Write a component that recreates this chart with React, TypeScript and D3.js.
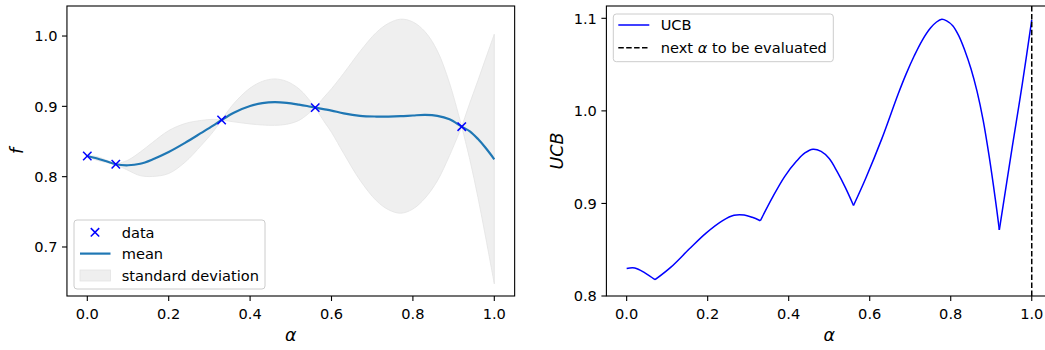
import React from "react";
import * as d3 from "d3";

// ---- data ----
const DATA_X = [0, 0.07, 0.33, 0.56, 0.92];
const DATA_Y = [0.8294, 0.8176, 0.8806, 0.8982, 0.8711];

const ALPHA = [0, 0.02, 0.045, 0.07, 0.1, 0.13, 0.16, 0.2, 0.24, 0.28, 0.31, 0.33, 0.36, 0.4, 0.43, 0.46, 0.49, 0.52, 0.54, 0.56, 0.58, 0.6, 0.63, 0.67, 0.71, 0.74, 0.77, 0.8, 0.83, 0.86, 0.89, 0.92, 0.94, 0.96, 0.98, 1.0];
const MEAN = [0.8294, 0.8265, 0.8222, 0.8176, 0.8162, 0.8183, 0.8244, 0.835, 0.848, 0.8622, 0.873, 0.8806, 0.891, 0.9005, 0.9045, 0.906, 0.905, 0.9025, 0.9005, 0.8982, 0.896, 0.894, 0.89, 0.8865, 0.8855, 0.8855, 0.886, 0.887, 0.8878, 0.8865, 0.8815, 0.8711, 0.8645, 0.8535, 0.84, 0.8247];
const UPPER = [0.8294, 0.829, 0.824, 0.8176, 0.8235, 0.835, 0.8485, 0.8655, 0.8755, 0.88, 0.8815, 0.8806, 0.904, 0.926, 0.9355, 0.939, 0.9355, 0.925, 0.913, 0.8982, 0.912, 0.925, 0.947, 0.978, 1.005, 1.018, 1.024, 1.02, 1.006, 0.979, 0.933, 0.8711, 0.905, 0.937, 0.97, 1.0025];
const LOWER = [0.8294, 0.824, 0.8204, 0.8176, 0.809, 0.8015, 0.8003, 0.8045, 0.8205, 0.8445, 0.8645, 0.8806, 0.878, 0.875, 0.8735, 0.873, 0.8745, 0.88, 0.888, 0.8982, 0.88, 0.863, 0.833, 0.795, 0.766, 0.753, 0.748, 0.754, 0.7696, 0.794, 0.83, 0.8711, 0.824, 0.77, 0.71, 0.6475];

const UCB_ALPHA = [0, 0.02, 0.045, 0.07, 0.11, 0.155, 0.196, 0.237, 0.265, 0.29, 0.31, 0.33, 0.36, 0.39, 0.42, 0.44, 0.46, 0.48, 0.5, 0.52, 0.54, 0.56, 0.59, 0.63, 0.67, 0.69, 0.71, 0.73, 0.75, 0.765, 0.778, 0.79, 0.805, 0.82, 0.835, 0.85, 0.865, 0.88, 0.895, 0.91, 0.92, 0.952, 0.977, 1.0];
const UCB = [0.8298, 0.8303, 0.825, 0.8176, 0.8315, 0.851, 0.868, 0.8815, 0.8872, 0.8875, 0.885, 0.8813, 0.9065, 0.929, 0.946, 0.9545, 0.9586, 0.9562, 0.9485, 0.934, 0.917, 0.8978, 0.927, 0.97, 1.018, 1.04, 1.0595, 1.0765, 1.0895, 1.096, 1.0989, 1.0972, 1.092, 1.081, 1.065, 1.0455, 1.021, 0.99, 0.9505, 0.905, 0.8715, 0.9614, 1.0299, 1.0982];

const NEXT_ALPHA = 1.0;
const X_TICKS = [0, 0.2, 0.4, 0.6, 0.8, 1.0];
const LEFT_Y_TICKS = [0.7, 0.8, 0.9, 1.0];
const RIGHT_Y_TICKS = [0.8, 0.9, 1.0, 1.1];

// ---- layout ----
const FONT = "DejaVu Sans";
const TICK_FS = 14.6;
const LABEL_FS = 17.5;
const TOP = 6;
const BOTTOM = 296;

const xL = d3.scaleLinear().domain([-0.05, 1.05]).range([66.95, 514.65]);
const yL = d3.scaleLinear().domain([0.6303, 1.0427]).range([BOTTOM, TOP]);
const xR = d3.scaleLinear().domain([-0.05, 1.05]).range([606.4, 1052]);
const yR = d3.scaleLinear().domain([0.8, 1.1133]).range([BOTTOM, TOP]);

const fmt = d3.format(".1f");

function splitAt<T>(items: T[], getX: (d: T) => number, breaks: number[]): T[][] {
  const segs: T[][] = [];
  let cur: T[] = [];
  items.forEach((d) => {
    cur.push(d);
    const x = getX(d);
    if (breaks.some((b) => Math.abs(b - x) < 1e-9) && cur.length > 1) {
      segs.push(cur);
      cur = [d];
    }
  });
  if (cur.length > 1) segs.push(cur);
  return segs;
}

type BandPt = { a: number; m: number; hi: number; lo: number };
const band: BandPt[] = ALPHA.map((a, i) => ({ a, m: MEAN[i], hi: UPPER[i], lo: LOWER[i] }));
const bandSegs = splitAt(band, (d) => d.a, DATA_X);
const ucbPts = UCB_ALPHA.map((a, i) => ({ a, v: UCB[i] }));
const ucbSegs = splitAt(ucbPts, (d) => d.a, DATA_X);

const areaGen = d3
  .area<BandPt>()
  .x((d) => xL(d.a))
  .y0((d) => yL(d.lo))
  .y1((d) => yL(d.hi))
  .curve(d3.curveCatmullRom);
const meanGen = d3
  .line<BandPt>()
  .x((d) => xL(d.a))
  .y((d) => yL(d.m))
  .curve(d3.curveCatmullRom);
const ucbGen = d3
  .line<{ a: number; v: number }>()
  .x((d) => xR(d.a))
  .y((d) => yR(d.v))
  .curve(d3.curveCatmullRom);

const AXIS_COLOR = "#000";
const SPINE_W = 1.1;

function Axes({ x, y, yTicks }: { x: d3.ScaleLinear<number, number>; y: d3.ScaleLinear<number, number>; yTicks: number[] }) {
  const [x0, x1] = x.range();
  return (
    <g>
      <rect x={x0} y={TOP} width={x1 - x0} height={BOTTOM - TOP} fill="none" stroke={AXIS_COLOR} strokeWidth={SPINE_W} />
      {X_TICKS.map((t) => (
        <g key={"xt" + t}>
          <line x1={x(t)} x2={x(t)} y1={BOTTOM} y2={BOTTOM + 5} stroke={AXIS_COLOR} strokeWidth={SPINE_W} />
          <text x={x(t)} y={319} textAnchor="middle" fontSize={TICK_FS} fontFamily={FONT} fill="#000">
            {fmt(t)}
          </text>
        </g>
      ))}
      {yTicks.map((t) => (
        <g key={"yt" + t}>
          <line x1={x0 - 5} x2={x0} y1={y(t)} y2={y(t)} stroke={AXIS_COLOR} strokeWidth={SPINE_W} />
          <text x={x0 - 9.5} y={y(t) + 5.3} textAnchor="end" fontSize={TICK_FS} fontFamily={FONT} fill="#000">
            {fmt(t)}
          </text>
        </g>
      ))}
      <text x={(x0 + x1) / 2} y={341} textAnchor="middle" fontSize={LABEL_FS} fontFamily={FONT} fontStyle="italic" fill="#000">
        α
      </text>
    </g>
  );
}

export default function App() {
  const markerSize = 4.2;
  return (
    <svg width={1045} height={350} style={{ position: "absolute", left: 0, top: 0, background: "#fff" }} xmlns="http://www.w3.org/2000/svg">
      <rect x={0} y={0} width={1045} height={350} fill="#fff" />
      {/* ---------- left panel ---------- */}
      <g>
        {bandSegs.map((seg, i) => (
          <path key={"b" + i} d={areaGen(seg) || ""} fill="#efefef" stroke="#e3e3e3" strokeWidth={0.8} />
        ))}
        <path d={meanGen(band) || ""} fill="none" stroke="#1f77b4" strokeWidth={2.2} />
        {DATA_X.map((a, i) => {
          const cx = xL(a);
          const cy = yL(DATA_Y[i]);
          return (
            <g key={"m" + i} stroke="#0000ff" strokeWidth={1.5}>
              <line x1={cx - markerSize} y1={cy - markerSize} x2={cx + markerSize} y2={cy + markerSize} />
              <line x1={cx - markerSize} y1={cy + markerSize} x2={cx + markerSize} y2={cy - markerSize} />
            </g>
          );
        })}
        <Axes x={xL} y={yL} yTicks={LEFT_Y_TICKS} />
        <text transform={`translate(23,151) rotate(-90)`} textAnchor="middle" fontSize={LABEL_FS} fontFamily={FONT} fontStyle="italic" fill="#000">
          f
        </text>
        {/* legend */}
        <rect x={74} y={220} width={191} height={69} rx={3} fill="#fff" fillOpacity={0.8} stroke="#cccccc" strokeWidth={1} />
        <g stroke="#0000ff" strokeWidth={1.5}>
          <line x1={95 - markerSize} y1={232.3 - markerSize} x2={95 + markerSize} y2={232.3 + markerSize} />
          <line x1={95 - markerSize} y1={232.3 + markerSize} x2={95 + markerSize} y2={232.3 - markerSize} />
        </g>
        <text x={121.7} y={237.6} fontSize={TICK_FS} fontFamily={FONT} fill="#000">data</text>
        <line x1={80} x2={110.5} y1={253.6} y2={253.6} stroke="#1f77b4" strokeWidth={2.2} />
        <text x={121.7} y={258.9} fontSize={TICK_FS} fontFamily={FONT} fill="#000">mean</text>
        <rect x={80} y={270} width={30.5} height={11} fill="#efefef" stroke="#e3e3e3" strokeWidth={0.8} />
        <text x={121.7} y={280.5} fontSize={TICK_FS} fontFamily={FONT} fill="#000">standard deviation</text>
      </g>
      {/* ---------- right panel ---------- */}
      <g>
        {ucbSegs.map((seg, i) => (
          <path key={"u" + i} d={ucbGen(seg) || ""} fill="none" stroke="#0000ff" strokeWidth={1.5} />
        ))}
        <line x1={xR(NEXT_ALPHA)} x2={xR(NEXT_ALPHA)} y1={TOP} y2={BOTTOM} stroke="#000" strokeWidth={1.5} strokeDasharray="5.5,2.4" />
        <Axes x={xR} y={yR} yTicks={RIGHT_Y_TICKS} />
        <text transform={`translate(563,151) rotate(-90)`} textAnchor="middle" fontSize={LABEL_FS} fontFamily={FONT} fontStyle="italic" fill="#000">
          UCB
        </text>
        {/* legend */}
        <rect x={613.3} y={14} width={220} height={47.7} rx={3} fill="#fff" fillOpacity={0.8} stroke="#cccccc" strokeWidth={1} />
        <line x1={618.3} x2={649.3} y1={25} y2={25} stroke="#0000ff" strokeWidth={1.5} />
        <text x={660.7} y={30.3} fontSize={TICK_FS} fontFamily={FONT} fill="#000">UCB</text>
        <line x1={618.3} x2={649.3} y1={47.7} y2={47.7} stroke="#000" strokeWidth={1.5} strokeDasharray="5.5,2.4" />
        <text x={660.7} y={53} fontSize={TICK_FS} fontFamily={FONT} fill="#000">
          next <tspan fontStyle="italic">α</tspan> to be evaluated
        </text>
      </g>
    </svg>
  );
}
